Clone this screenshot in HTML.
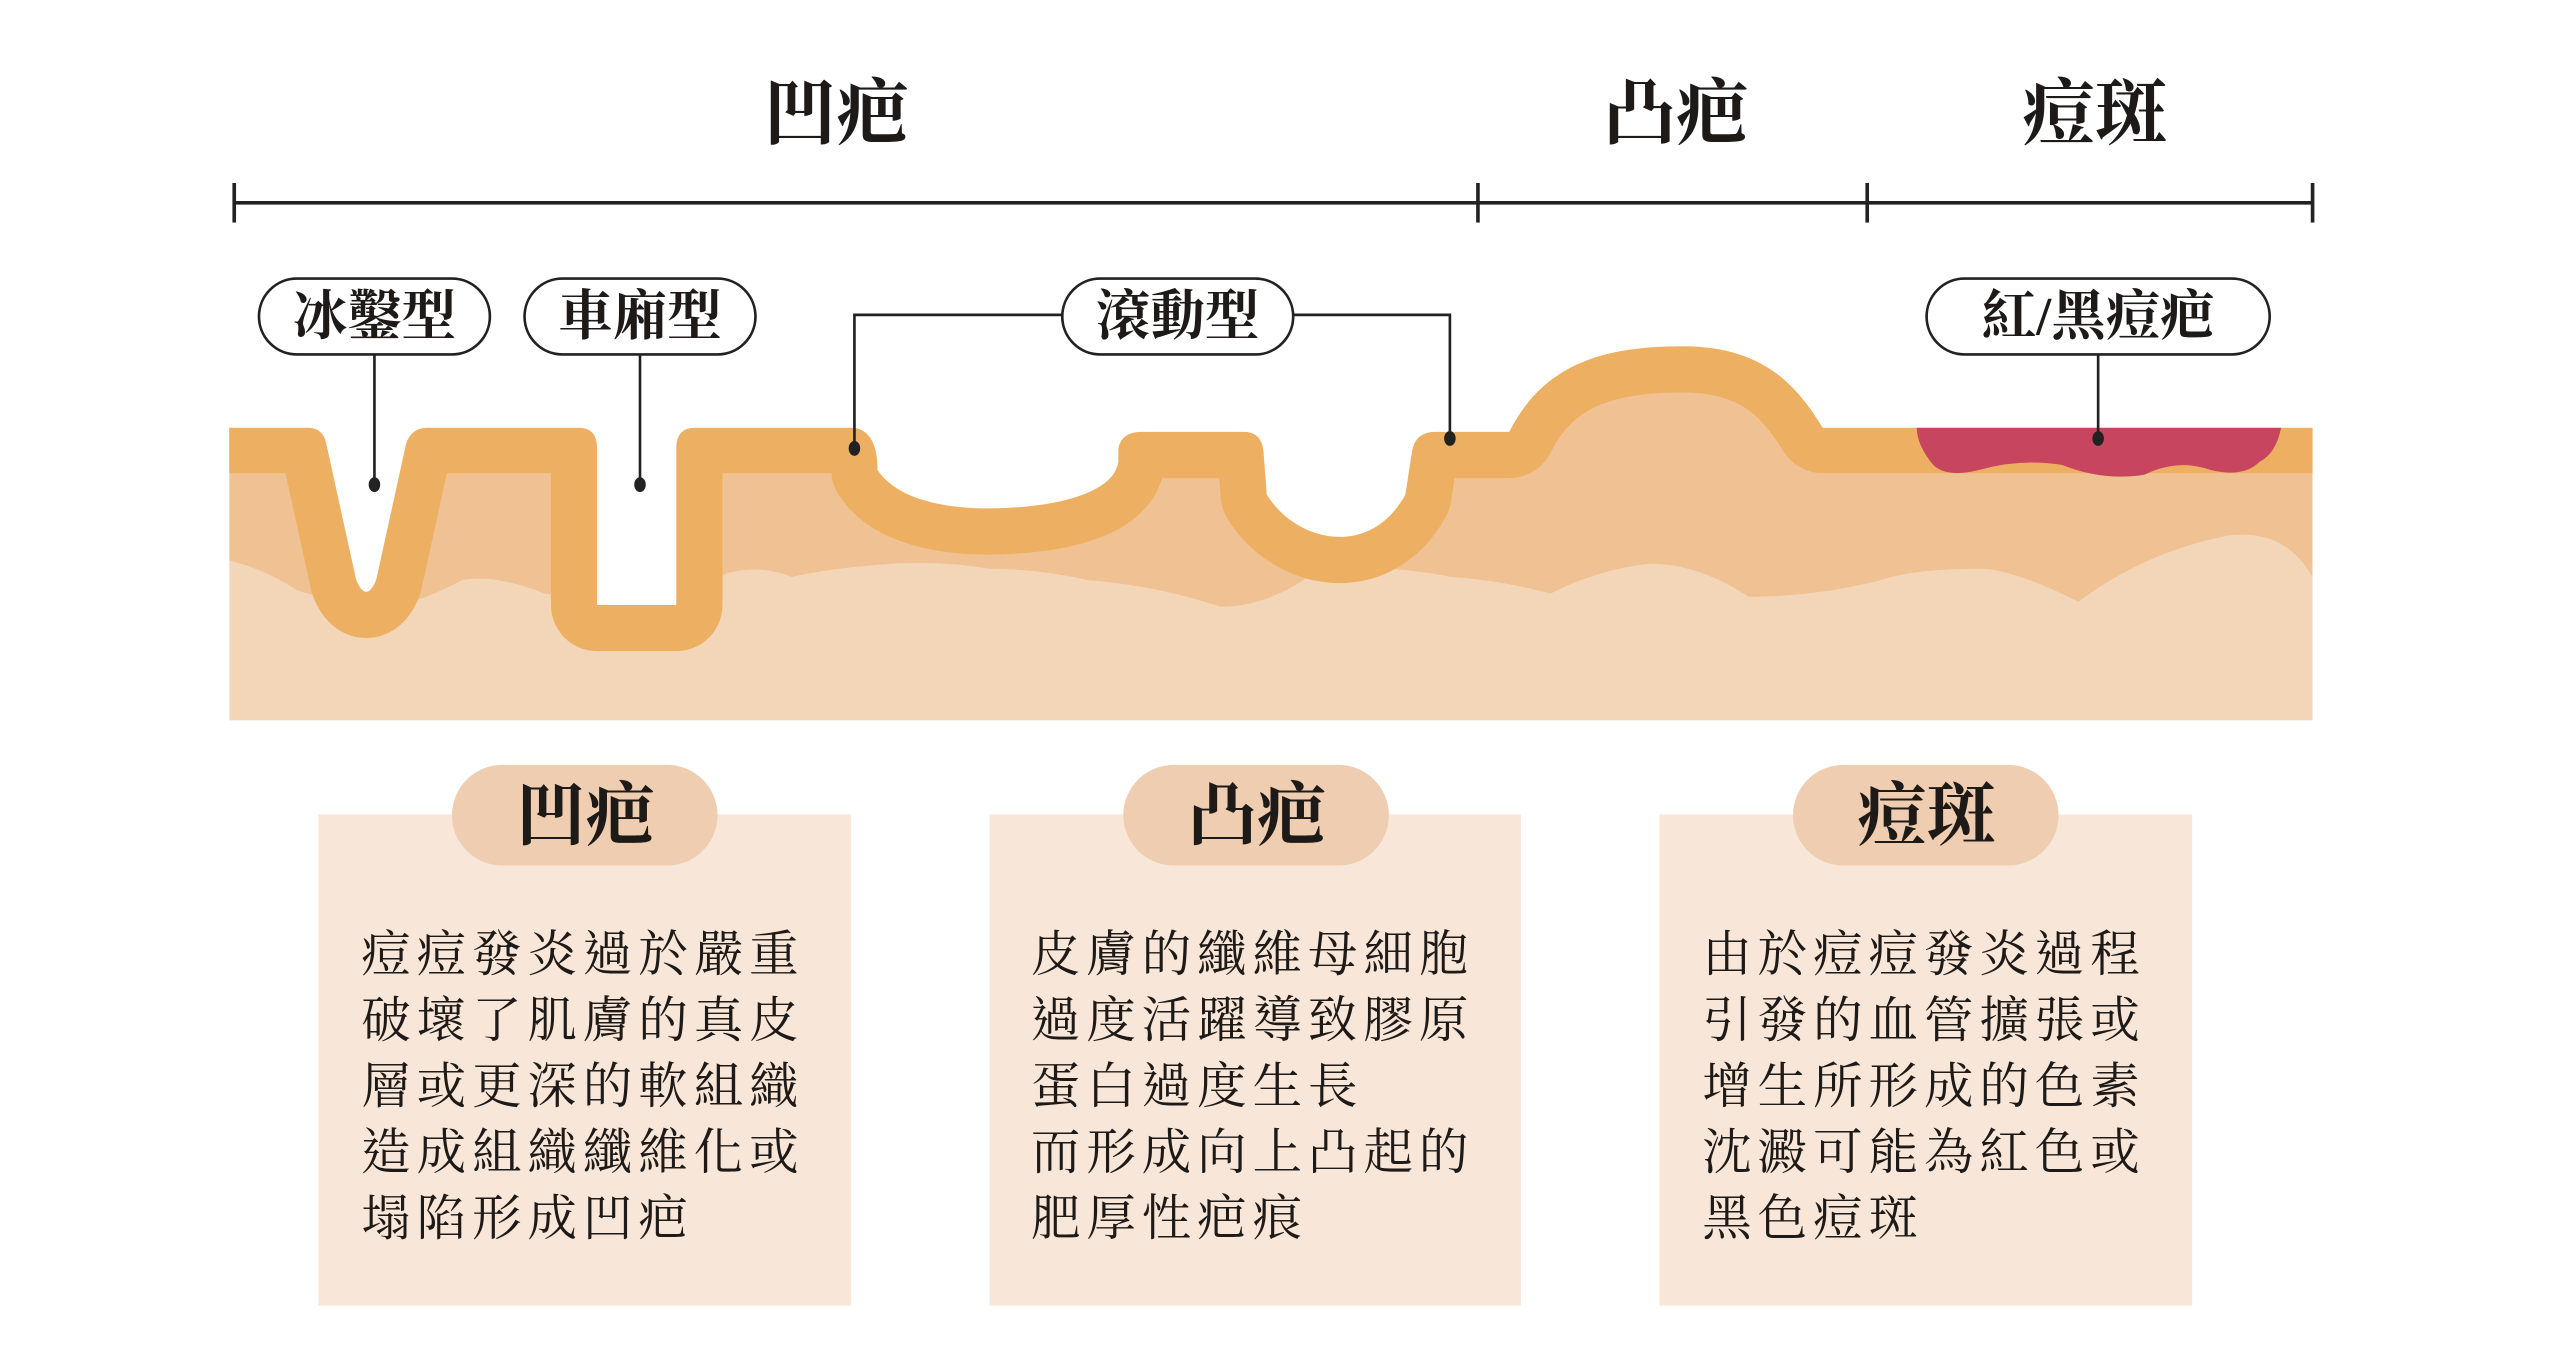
<!DOCTYPE html>
<html><head><meta charset="utf-8"><style>
html,body{margin:0;padding:0;background:#fff;width:2560px;height:1365px;overflow:hidden}
svg{display:block}
text{font-family:"Liberation Serif","Noto Serif CJK TC","Noto Serif CJK SC",serif;fill:#1e1a18}
</style></head><body>
<svg width="2560" height="1365" viewBox="0 0 1552 828" preserveAspectRatio="none" xmlns="http://www.w3.org/2000/svg">
<defs><clipPath id="skin"><rect x="139" y="150" width="1263" height="287"/></clipPath></defs>
<rect width="1552" height="828" fill="#fff"/>
<!-- skin -->
<g clip-path="url(#skin)">
<rect x="139" y="259" width="1263" height="178" fill="#F3D6B8"/>
<path d="M139,259 L1402,259 L1402,350 Q1385,320 1350,325 Q1300,335 1260,365 Q1220,345 1200,345 Q1160,345 1140,352 Q1100,362 1060,362 Q1030,342 1000,342 Q970,345 940,360 Q910,352 880,350 Q840,342 800,345 Q770,368 740,368 Q700,355 660,352 Q630,345 600,345 Q570,340 540,342 Q500,345 480,350 Q460,342 440,348 Q410,368 380,368 Q350,362 330,360 Q300,348 280,352 Q250,368 230,368 Q200,365 180,358 Q160,345 139,340 Z" fill="#EFC193"/>
<path d="M915,262 C935,222 970,210 1020,210 C1070,210 1090,235 1105,259 Z" fill="#EFC193"/>
<path d="M120,259 L186,259 Q196,259 198,270 L216,352 Q222,366 228,352 L246,270 Q249,259 260,259 L350,259 Q362,259 362,272 L362,367 L410,367 L410,272 Q410,259 422,259 L518,259 Q532,262 532,285 C545,305 580,310 612,308 C650,306 676,296 678,280 L678,272 Q680,262 692,262 L754,262 Q765,262 766,274 L768,300 C785,328 830,340 852,300 L856,274 Q858,262 870,262 L915,262 C935,222 970,210 1020,210 C1070,210 1090,235 1105,259 L1420,259" fill="none" stroke="#EDB062" stroke-width="56" stroke-linejoin="round"/>
<path d="M1162,259 L1383,259 Q1380,275 1370,280 Q1360,290 1340,285 Q1320,278 1300,288 Q1275,292 1250,282 Q1225,278 1200,285 Q1180,290 1172,282 Q1162,270 1162,259 Z" fill="#C8455F"/>
</g>
<path d="M100,0 L100,259.5 L186,259.5 Q196,259 198,270 L216,352 Q222,366 228,352 L246,270 Q249,259 260,259.5 L350,259.5 Q362,259 362,272 L362,367 L410,367 L410,272 Q410,259 422,259.5 L518,259.5 Q532,262 532,285 C545,305 580,310 612,308 C650,306 676,296 678,280 L678,272 Q680,262 692,262 L754,262 Q765,262 766,274 L768,300 C785,328 830,340 852,300 L856,274 Q858,262 870,262 L915,262 C935,222 970,210 1020,210 C1070,210 1090,235 1105,259.5 L1450,259.5 L1450,0 Z" fill="#fff"/>
<!-- titles -->
<text x="507" y="84" font-size="44" font-weight="bold" text-anchor="middle">凹疤</text>
<text x="1016" y="84" font-size="44" font-weight="bold" text-anchor="middle">凸疤</text>
<text x="1270" y="84" font-size="44" font-weight="bold" text-anchor="middle">痘斑</text>
<g stroke="#222" stroke-width="2.2" fill="none">
<line x1="142" y1="123" x2="1402" y2="123"/>
<line x1="142" y1="111" x2="142" y2="135"/>
<line x1="896" y1="111" x2="896" y2="135"/>
<line x1="1132" y1="111" x2="1132" y2="135"/>
<line x1="1402" y1="111" x2="1402" y2="135"/>
</g>
<!-- connectors -->
<g stroke="#222" stroke-width="1.6" fill="none">
<line x1="227" y1="214" x2="227" y2="294"/>
<line x1="388" y1="214" x2="388" y2="294"/>
<polyline points="644,191 518,191 518,272"/>
<polyline points="784,191 879,191 879,266"/>
<line x1="1272" y1="214" x2="1272" y2="266"/>
</g>
<g fill="#222">
<ellipse cx="227" cy="294" rx="3.5" ry="4.5"/>
<ellipse cx="388" cy="294" rx="3.5" ry="4.5"/>
<ellipse cx="518" cy="272" rx="3.5" ry="4.5"/>
<ellipse cx="879" cy="266" rx="3.5" ry="4.5"/>
<ellipse cx="1272" cy="266" rx="3.5" ry="4.5"/>
</g>
<g fill="#fff" stroke="#222" stroke-width="1.6">
<rect x="157" y="169" width="140" height="46" rx="23"/>
<rect x="318" y="169" width="140" height="46" rx="23"/>
<rect x="644" y="169" width="140" height="46" rx="23"/>
<rect x="1168" y="169" width="208" height="46" rx="23"/>
</g>
<g font-size="33" font-weight="bold" text-anchor="middle">
<text x="227" y="203">冰鑿型</text>
<text x="388" y="203">車廂型</text>
<text x="714" y="203">滾動型</text>
<text x="1272" y="203">紅/黑痘疤</text>
</g>
<!-- boxes -->
<g fill="#F8E6D8">
<rect x="193" y="494" width="323" height="298"/>
<rect x="600" y="494" width="322" height="298"/>
<rect x="1006" y="494" width="323" height="298"/>
</g>
<g fill="#EFCDB0">
<rect x="274" y="464" width="161" height="61" rx="30.5"/>
<rect x="681" y="464" width="161" height="61" rx="30.5"/>
<rect x="1087" y="464" width="161" height="61" rx="30.5"/>
</g>
<g font-size="42" font-weight="bold" text-anchor="middle">
<text x="355" y="509">凹疤</text>
<text x="762" y="509">凸疤</text>
<text x="1168" y="509">痘斑</text>
</g>
<g font-size="30" letter-spacing="3.6">
<text x="219" y="589">痘痘發炎過於嚴重</text>
<text x="219" y="629">破壞了肌膚的真皮</text>
<text x="219" y="669">層或更深的軟組織</text>
<text x="219" y="709">造成組織纖維化或</text>
<text x="219" y="749">塌陷形成凹疤</text>
<text x="625" y="589">皮膚的纖維母細胞</text>
<text x="625" y="629">過度活躍導致膠原</text>
<text x="625" y="669">蛋白過度生長</text>
<text x="625" y="709">而形成向上凸起的</text>
<text x="625" y="749">肥厚性疤痕</text>
<text x="1032" y="589">由於痘痘發炎過程</text>
<text x="1032" y="629">引發的血管擴張或</text>
<text x="1032" y="669">增生所形成的色素</text>
<text x="1032" y="709">沈澱可能為紅色或</text>
<text x="1032" y="749">黑色痘斑</text>
</g>
</svg>
</body></html>
